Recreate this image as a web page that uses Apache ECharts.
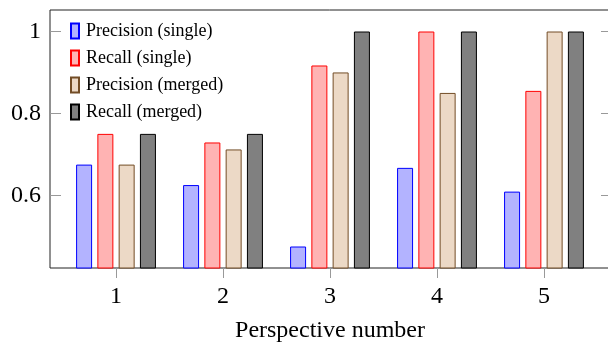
<!DOCTYPE html>
<html><head><meta charset="utf-8">
<script src="https://cdn.jsdelivr.net/npm/echarts@6/dist/echarts.min.js"></script>
<style>html,body{margin:0;padding:0;background:#fff}#c{width:608px;height:343px}</style>
</head><body><div id="c"></div>
<script>
const categories = [1, 2, 3, 4, 5];
const precisionSingle = [0.675, 0.625, 0.475, 0.667, 0.609];
const recallSingle = [0.75, 0.729, 0.917, 1.0, 0.855];
const precisionMerged = [0.675, 0.712, 0.9, 0.85, 1.0];
const recallMerged = [0.75, 0.75, 1.0, 1.0, 1.0];
const yTicks = [0.6, 0.8, 1];

const FONT = 'Liberation Serif';
function mk(name, vals, fill, border) {
  return {
    name, type: 'bar', data: categories.map((c, i) => [c, vals[i]]),
    barWidth: 16, barGap: '33%',
    itemStyle: { color: fill, borderColor: border, borderWidth: 1 },
    emphasis: { disabled: true }
  };
}
const chart = echarts.init(document.getElementById('c'));
chart.setOption({
  animation: false,
  grid: { left: 50, right: -2, top: 10, height: 258, containLabel: false, outerBoundsMode: 'none',
    show: true, borderColor: '#222', borderWidth: 1, backgroundColor: 'transparent' },
  legend: {
    orient: 'vertical', left: 65, top: 17, itemWidth: 8, itemHeight: 15, itemGap: 9, icon: 'rect',
    textStyle: { fontFamily: FONT, fontSize: 18, color: '#000', padding: [0, 0, 0, 2] },
    data: ['Precision (single)', 'Recall (single)', 'Precision (merged)', 'Recall (merged)']
  },
  xAxis: {
    type: 'value', min: 0.383, max: 5.617,
    name: 'Perspective number', nameLocation: 'middle', nameGap: 51,
    nameTextStyle: { fontFamily: FONT, fontSize: 24, color: '#000' },
    axisLine: { show: false }, splitLine: { show: false },
    axisTick: { show: true, customValues: categories, length: 10, inside: false, lineStyle: { color: '#999' } },
    axisLabel: { customValues: categories, fontFamily: FONT, fontSize: 24, color: '#000', margin: 17 }
  },
  yAxis: [{
    type: 'value', min: 0.4225, max: 1.0525,
    axisLine: { show: false }, splitLine: { show: false },
    axisTick: { show: true, customValues: yTicks, inside: true, length: 11, lineStyle: { color: '#999' } },
    axisLabel: { customValues: yTicks, fontFamily: FONT, fontSize: 24, color: '#000', margin: 9,
      formatter: v => String(+v.toFixed(2)) }
  }, {
    type: 'value', position: 'right', min: 0.4225, max: 1.0525,
    axisLine: { show: false }, splitLine: { show: false },
    axisTick: { show: true, customValues: yTicks, inside: true, length: 9, lineStyle: { color: '#999' } },
    axisLabel: { show: false }
  }],
  series: [
    mk('Precision (single)', precisionSingle, '#b3b3ff', '#0000ff'),
    mk('Recall (single)', recallSingle, '#ffb3b3', '#ff0000'),
    mk('Precision (merged)', precisionMerged, '#ecd9c6', '#734d26'),
    mk('Recall (merged)', recallMerged, '#808080', '#000000')
  ]
});
</script></body></html>
